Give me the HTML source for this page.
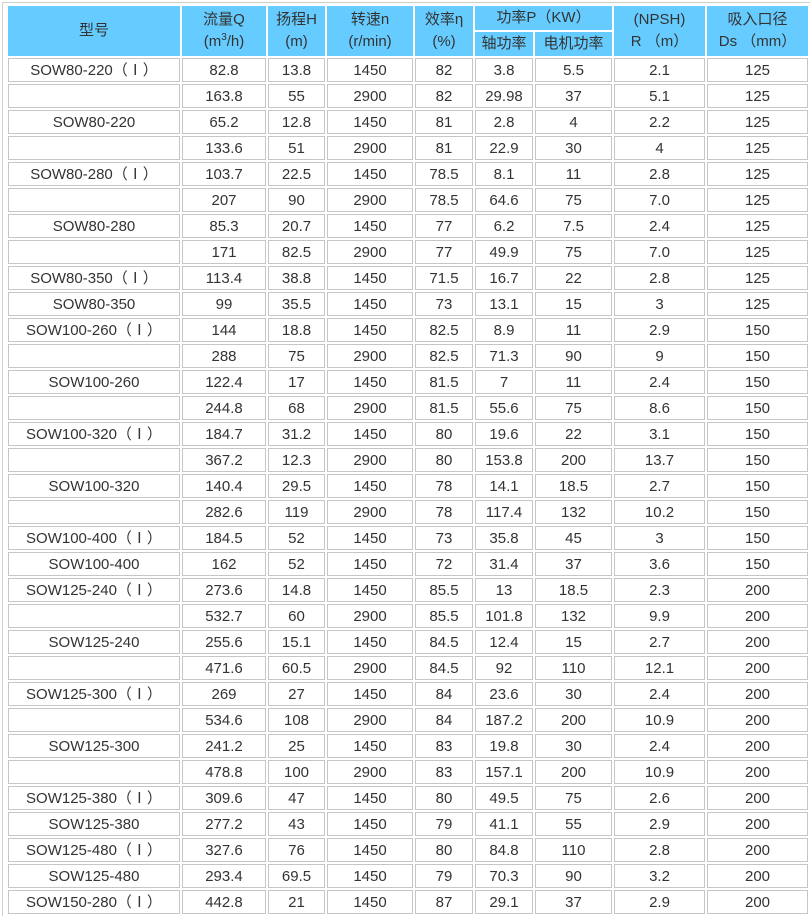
<!DOCTYPE html>
<html>
<head>
<meta charset="utf-8">
<style>
  html { margin:0; padding:0; width:810px; height:916px; overflow:hidden; }
  body { margin:0; padding:0; background:#fff; width:810px; height:916px; overflow:hidden; position:relative;
         font-family:"Liberation Sans","Noto Sans CJK SC",sans-serif; font-size:15px; color:#333; }
  .frame { position:absolute; left:2px; top:2px; width:807px; height:913px;
           border-left:1px solid #cfcfcf; border-top:1px solid #cfcfcf; }
  .grid { position:absolute; left:8px; top:6px; display:grid;
          grid-template-columns:172px 84px 57px 86px 58px 58px 77px 91px 101px;
          grid-auto-rows:24px; gap:2px; }
  .grid > div { box-sizing:border-box; border:1px solid #c6c6c6; display:block;
                text-align:center; line-height:22px; height:24px; padding-top:1px;
                white-space:nowrap; overflow:visible; }
  .grid > div.h { background:#66ccff; border-color:#66ccff; display:flex;
                  align-items:center; justify-content:center; height:auto; padding-top:0; }
  .h span { display:block; line-height:22px; }
  sup { font-size:10px; line-height:0; vertical-align:6px; }
</style>
</head>
<body>
<div class="frame"></div>
<div class="grid">
  <div class="h" style="grid-row:1/3;grid-column:1">型号</div>
  <div class="h" style="grid-row:1/3;grid-column:2"><span>流量Q<br>(m<sup>3</sup>/h)</span></div>
  <div class="h" style="grid-row:1/3;grid-column:3"><span>扬程H<br>(m)</span></div>
  <div class="h" style="grid-row:1/3;grid-column:4"><span>转速n<br>(r/min)</span></div>
  <div class="h" style="grid-row:1/3;grid-column:5"><span>效率η<br>(%)</span></div>
  <div class="h" style="grid-row:1;grid-column:6/8">功率P（KW）</div>
  <div class="h" style="grid-row:2;grid-column:6">轴功率</div>
  <div class="h" style="grid-row:2;grid-column:7">电机功率</div>
  <div class="h" style="grid-row:1/3;grid-column:8"><span>(NPSH)<br>R （m）</span></div>
  <div class="h" style="grid-row:1/3;grid-column:9"><span>吸入口径<br>Ds （mm）</span></div>

  <div>SOW80-220（Ⅰ）</div><div>82.8</div><div>13.8</div><div>1450</div><div>82</div><div>3.8</div><div>5.5</div><div>2.1</div><div>125</div>
  <div></div><div>163.8</div><div>55</div><div>2900</div><div>82</div><div>29.98</div><div>37</div><div>5.1</div><div>125</div>
  <div>SOW80-220</div><div>65.2</div><div>12.8</div><div>1450</div><div>81</div><div>2.8</div><div>4</div><div>2.2</div><div>125</div>
  <div></div><div>133.6</div><div>51</div><div>2900</div><div>81</div><div>22.9</div><div>30</div><div>4</div><div>125</div>
  <div>SOW80-280（Ⅰ）</div><div>103.7</div><div>22.5</div><div>1450</div><div>78.5</div><div>8.1</div><div>11</div><div>2.8</div><div>125</div>
  <div></div><div>207</div><div>90</div><div>2900</div><div>78.5</div><div>64.6</div><div>75</div><div>7.0</div><div>125</div>
  <div>SOW80-280</div><div>85.3</div><div>20.7</div><div>1450</div><div>77</div><div>6.2</div><div>7.5</div><div>2.4</div><div>125</div>
  <div></div><div>171</div><div>82.5</div><div>2900</div><div>77</div><div>49.9</div><div>75</div><div>7.0</div><div>125</div>
  <div>SOW80-350（Ⅰ）</div><div>113.4</div><div>38.8</div><div>1450</div><div>71.5</div><div>16.7</div><div>22</div><div>2.8</div><div>125</div>
  <div>SOW80-350</div><div>99</div><div>35.5</div><div>1450</div><div>73</div><div>13.1</div><div>15</div><div>3</div><div>125</div>
  <div>SOW100-260（Ⅰ）</div><div>144</div><div>18.8</div><div>1450</div><div>82.5</div><div>8.9</div><div>11</div><div>2.9</div><div>150</div>
  <div></div><div>288</div><div>75</div><div>2900</div><div>82.5</div><div>71.3</div><div>90</div><div>9</div><div>150</div>
  <div>SOW100-260</div><div>122.4</div><div>17</div><div>1450</div><div>81.5</div><div>7</div><div>11</div><div>2.4</div><div>150</div>
  <div></div><div>244.8</div><div>68</div><div>2900</div><div>81.5</div><div>55.6</div><div>75</div><div>8.6</div><div>150</div>
  <div>SOW100-320（Ⅰ）</div><div>184.7</div><div>31.2</div><div>1450</div><div>80</div><div>19.6</div><div>22</div><div>3.1</div><div>150</div>
  <div></div><div>367.2</div><div>12.3</div><div>2900</div><div>80</div><div>153.8</div><div>200</div><div>13.7</div><div>150</div>
  <div>SOW100-320</div><div>140.4</div><div>29.5</div><div>1450</div><div>78</div><div>14.1</div><div>18.5</div><div>2.7</div><div>150</div>
  <div></div><div>282.6</div><div>119</div><div>2900</div><div>78</div><div>117.4</div><div>132</div><div>10.2</div><div>150</div>
  <div>SOW100-400（Ⅰ）</div><div>184.5</div><div>52</div><div>1450</div><div>73</div><div>35.8</div><div>45</div><div>3</div><div>150</div>
  <div>SOW100-400</div><div>162</div><div>52</div><div>1450</div><div>72</div><div>31.4</div><div>37</div><div>3.6</div><div>150</div>
  <div>SOW125-240（Ⅰ）</div><div>273.6</div><div>14.8</div><div>1450</div><div>85.5</div><div>13</div><div>18.5</div><div>2.3</div><div>200</div>
  <div></div><div>532.7</div><div>60</div><div>2900</div><div>85.5</div><div>101.8</div><div>132</div><div>9.9</div><div>200</div>
  <div>SOW125-240</div><div>255.6</div><div>15.1</div><div>1450</div><div>84.5</div><div>12.4</div><div>15</div><div>2.7</div><div>200</div>
  <div></div><div>471.6</div><div>60.5</div><div>2900</div><div>84.5</div><div>92</div><div>110</div><div>12.1</div><div>200</div>
  <div>SOW125-300（Ⅰ）</div><div>269</div><div>27</div><div>1450</div><div>84</div><div>23.6</div><div>30</div><div>2.4</div><div>200</div>
  <div></div><div>534.6</div><div>108</div><div>2900</div><div>84</div><div>187.2</div><div>200</div><div>10.9</div><div>200</div>
  <div>SOW125-300</div><div>241.2</div><div>25</div><div>1450</div><div>83</div><div>19.8</div><div>30</div><div>2.4</div><div>200</div>
  <div></div><div>478.8</div><div>100</div><div>2900</div><div>83</div><div>157.1</div><div>200</div><div>10.9</div><div>200</div>
  <div>SOW125-380（Ⅰ）</div><div>309.6</div><div>47</div><div>1450</div><div>80</div><div>49.5</div><div>75</div><div>2.6</div><div>200</div>
  <div>SOW125-380</div><div>277.2</div><div>43</div><div>1450</div><div>79</div><div>41.1</div><div>55</div><div>2.9</div><div>200</div>
  <div>SOW125-480（Ⅰ）</div><div>327.6</div><div>76</div><div>1450</div><div>80</div><div>84.8</div><div>110</div><div>2.8</div><div>200</div>
  <div>SOW125-480</div><div>293.4</div><div>69.5</div><div>1450</div><div>79</div><div>70.3</div><div>90</div><div>3.2</div><div>200</div>
  <div>SOW150-280（Ⅰ）</div><div>442.8</div><div>21</div><div>1450</div><div>87</div><div>29.1</div><div>37</div><div>2.9</div><div>200</div>
</div>
</body>
</html>
